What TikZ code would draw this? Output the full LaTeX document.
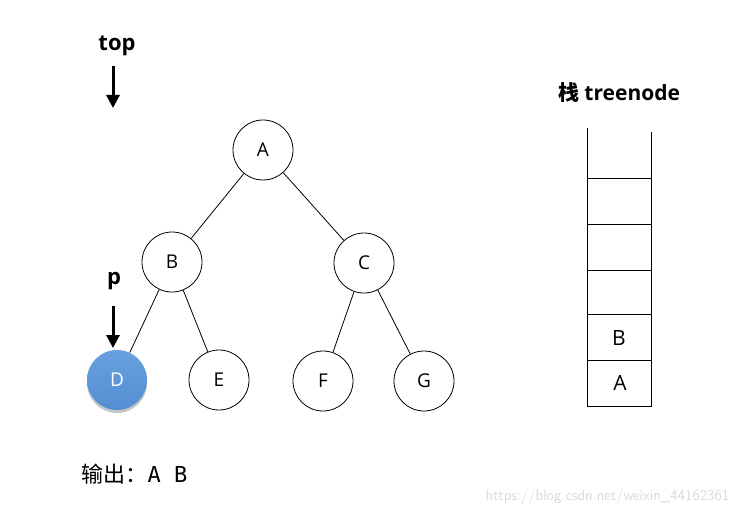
\documentclass[tikz,border=0pt]{standalone}
\usepackage{fontspec}
\setmainfont{Open Sans}
\setmonofont{DejaVu Sans Mono}
\newfontfamily\cjk{Noto Sans CJK SC}
\usepackage{tikz}
\usetikzlibrary{arrows.meta}
\usetikzlibrary{positioning}
\usetikzlibrary{shadows}

\definecolor{nodeblue}{RGB}{84,142,210}
\definecolor{nodeblueup}{RGB}{104,160,222}

\begin{document}
\begin{tikzpicture}[x=1pt,y=-1pt,thick,
  main node/.style={circle,draw,minimum size=60pt,inner sep=0pt,font=\fontsize{19}{19}\selectfont},
  cur node/.style={main node,draw=none,top color=nodeblueup,bottom color=nodeblue,text=white,
    drop shadow={opacity=0.45,shadow xshift=0pt,shadow yshift=-3pt}},
  ptr/.style={-{Triangle[length=13pt,width=13pt]},line width=3pt},
  label text/.style={font=\fontsize{22}{22}\selectfont\bfseries}]

  \useasboundingbox (0,0) rectangle (739,516);

  % tree
  \node[main node] (A) at (263,150) {A};
  \node[main node] (B) at (172,262) {B};
  \node[main node] (C) at (364,263) {C};
  \node[cur node] (D) at (117,380) {D};
  \node[main node] (E) at (219,380) {E};
  \node[main node] (F) at (323,381) {F};
  \node[main node] (G) at (424,381) {G};

  \path (A) edge (B) (A) edge (C)
        (B) edge (D) (B) edge (E)
        (C) edge (F) (C) edge (G);

  % pointers
  \node[label text] (top) at (117,46) {top};
  \coordinate (topend) at (113,108);
  \draw[ptr] (113,66) -- (topend);
  \node[label text] (p) at (114,281) {p};
  \coordinate (pend) at (113,348);
  \draw[ptr] (113,306) -- (pend);

  % stack
  \node[font=\fontsize{21}{21}\selectfont] (stk) at (619,93) {{\cjk\bfseries 栈} \textbf{treenode}};
  \draw (587,128) -- (587,406) -- (651,406) -- (651,132);
  \foreach \y in {178,224,270,314,360}
    \draw (587,\y) -- (651,\y);
  \node[font=\fontsize{21}{21}\selectfont] (sB) at (619,338) {B};
  \node[font=\fontsize{21}{21}\selectfont] (sA) at (620,383) {A};

  % output
  \node[anchor=west,font=\fontsize{22}{22}\selectfont] (out) at (78,474) {{\cjk 输出：}\texttt{A B}};
  \node[anchor=east,text=black!15,font=\fontsize{15}{15}\selectfont\sffamily] (wm) at (733,497) {https://blog.csdn.net/weixin\_44162361};
\end{tikzpicture}
\end{document}
